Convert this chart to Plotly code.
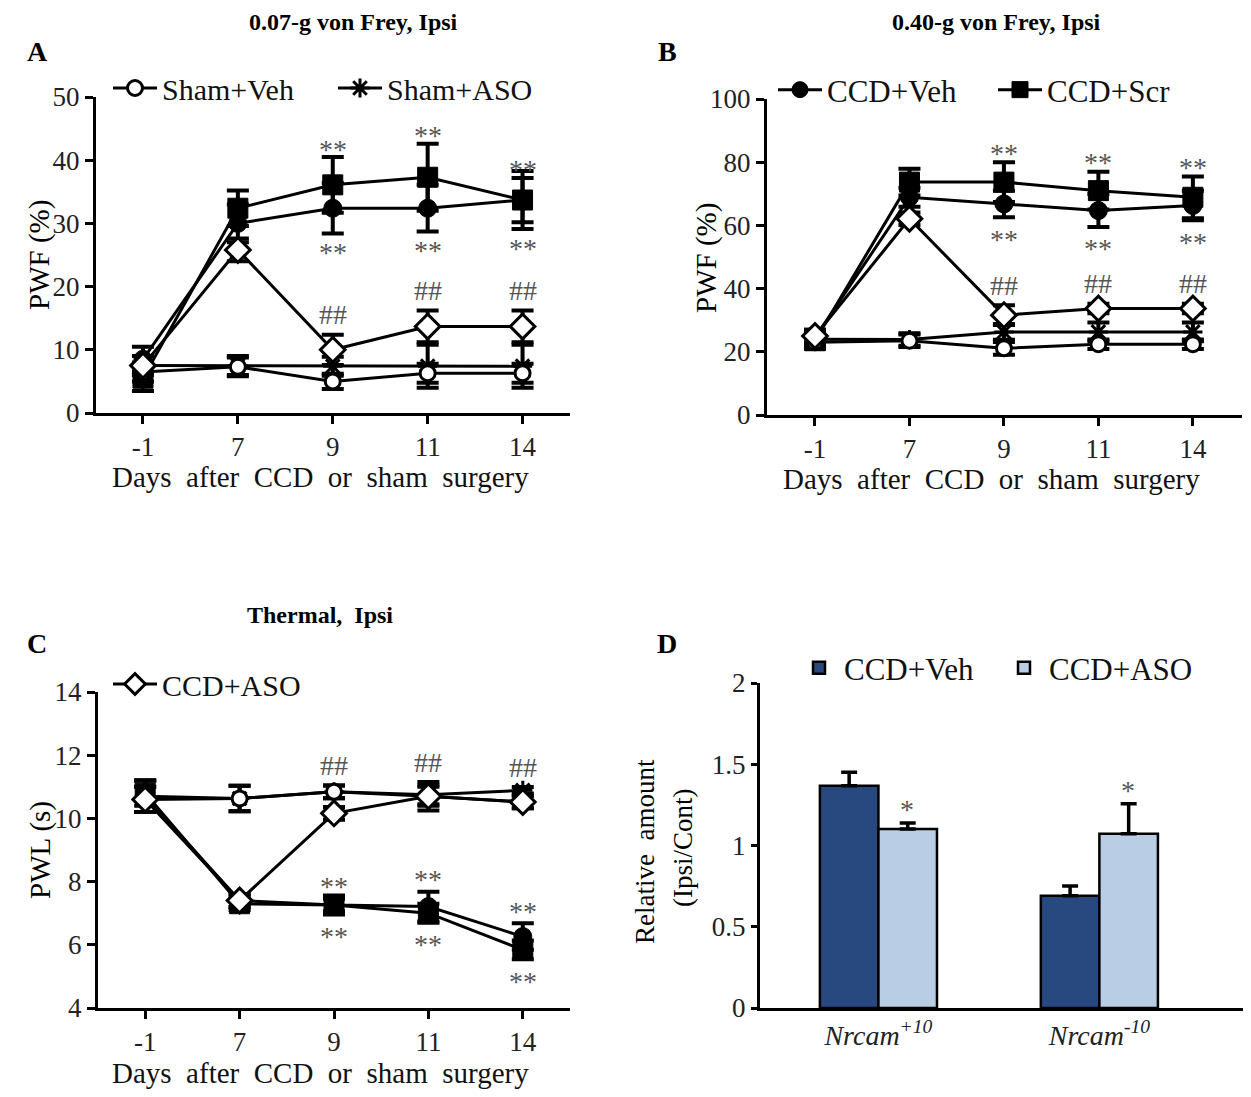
import plotly.graph_objects as go

W, H = 1251, 1097
OFF = 8  # page body margin
def fx(p): return (p - OFF) / W
def fy(p): return 1 - (p - OFF) / H

# ---------------- data ----------------
days = ["-1", "7", "9", "11", "14"]

# Panel A: 0.07-g von Frey, PWF (%)
a_sham_veh = [6.5, 7.3, 5.0, 6.3, 6.3]
a_sham_veh_err = [1.5, 1.5, 1.2, 1.5, 1.5]
a_sham_aso = [7.5, 7.5, 7.4, 7.4, 7.4]
a_sham_aso_err = [1.5, 1.5, 1.5, 3.4, 3.4]
a_ccd_veh = [8.5, 30.0, 32.4, 32.4, 33.7]
a_ccd_veh_err = [2.0, 3.0, 4.0, 3.7, 4.6]
a_ccd_scr = [5.5, 32.4, 36.1, 37.3, 33.7]
a_ccd_scr_err = [2.0, 2.8, 4.4, 5.3, 3.5]
a_ccd_aso = [7.5, 25.8, 10.0, 13.7, 13.7]
a_ccd_aso_err = [1.5, 1.8, 2.4, 2.5, 2.5]

# Panel B: 0.40-g von Frey, PWF (%)
b_sham_veh = [23.0, 23.5, 21.1, 22.4, 22.4]
b_sham_veh_err = [2.0, 2.0, 2.0, 1.5, 1.5]
b_sham_aso = [24.0, 23.9, 26.3, 26.3, 26.3]
b_sham_aso_err = [2.0, 2.0, 2.5, 3.0, 3.0]
b_ccd_veh = [24.5, 68.9, 66.8, 64.7, 66.3]
b_ccd_veh_err = [2.5, 3.0, 4.2, 5.2, 4.7]
b_ccd_scr = [23.5, 73.7, 73.7, 71.0, 68.9]
b_ccd_scr_err = [2.5, 4.2, 6.3, 6.0, 6.6]
b_ccd_aso = [25.0, 62.1, 31.6, 33.7, 33.7]
b_ccd_aso_err = [2.0, 2.0, 3.1, 1.5, 1.5]

# Panel C: Thermal, PWL (s)
c_sham_veh = [10.6, 10.63, 10.84, 10.7, 10.52]
c_sham_veh_err = [0.4, 0.4, 0.2, 0.45, 0.2]
c_sham_aso = [10.7, 10.63, 10.84, 10.75, 10.89]
c_sham_aso_err = [0.5, 0.4, 0.2, 0.3, 0.1]
c_ccd_veh = [10.7, 7.4, 7.26, 7.21, 6.26]
c_ccd_veh_err = [0.5, 0.2, 0.2, 0.47, 0.42]
c_ccd_scr = [10.8, 7.3, 7.26, 7.0, 5.84]
c_ccd_scr_err = [0.4, 0.2, 0.3, 0.3, 0.3]
c_ccd_aso = [10.6, 7.4, 10.16, 10.7, 10.52]
c_ccd_aso_err = [0.4, 0.2, 0.2, 0.3, 0.2]

# Panel D: relative amount (Ipsi/Cont)
d_genes = ["Nrcam+10", "Nrcam-10"]
d_gene_labels = ["<i>Nrcam</i><sup><i>+10</i></sup>", "<i>Nrcam</i><sup><i>-10</i></sup>"]
d_veh = [1.367, 0.690]
d_veh_err = [0.084, 0.061]
d_aso = [1.102, 1.073]
d_aso_err = [0.037, 0.184]

# days (by index) that carry significance marks
sig_days = [2, 3, 4]

# ---------------- styles ----------------
FONT = "Liberation Serif"
styles = {
    "Sham+Veh": dict(symbol="circle", size=15, color="white", lw=3),
    "Sham+ASO": dict(symbol="asterisk-open", size=16, color="black", lw=3),
    "CCD+Veh": dict(symbol="circle", size=18, color="black", lw=1),
    "CCD+Scr": dict(symbol="square", size=20, color="black", lw=1),
    "CCD+ASO": dict(symbol="diamond", size=19, color="white", lw=3),
}

fig = go.Figure()

panels = [
    ("x", "y", {"Sham+Veh": (a_sham_veh, a_sham_veh_err), "Sham+ASO": (a_sham_aso, a_sham_aso_err),
                "CCD+Veh": (a_ccd_veh, a_ccd_veh_err), "CCD+Scr": (a_ccd_scr, a_ccd_scr_err),
                "CCD+ASO": (a_ccd_aso, a_ccd_aso_err)}, "legend", ["Sham+Veh", "Sham+ASO"]),
    ("x2", "y2", {"Sham+Veh": (b_sham_veh, b_sham_veh_err), "Sham+ASO": (b_sham_aso, b_sham_aso_err),
                  "CCD+Veh": (b_ccd_veh, b_ccd_veh_err), "CCD+Scr": (b_ccd_scr, b_ccd_scr_err),
                  "CCD+ASO": (b_ccd_aso, b_ccd_aso_err)}, "legend2", ["CCD+Veh", "CCD+Scr"]),
    ("x3", "y3", {"Sham+Veh": (c_sham_veh, c_sham_veh_err), "Sham+ASO": (c_sham_aso, c_sham_aso_err),
                  "CCD+Veh": (c_ccd_veh, c_ccd_veh_err), "CCD+Scr": (c_ccd_scr, c_ccd_scr_err),
                  "CCD+ASO": (c_ccd_aso, c_ccd_aso_err)}, "legend3", ["CCD+ASO"]),
]

order = ["CCD+Veh", "CCD+Scr", "Sham+ASO", "Sham+Veh", "CCD+ASO"]
legend_order = ["Sham+Veh", "Sham+ASO", "CCD+Veh", "CCD+Scr", "CCD+ASO"]
for xa, ya, data, leg, shown in panels:
    for name in order:
        vals, errs = data[name]
        st = styles[name]
        fig.add_trace(go.Scatter(
            x=days, y=vals, name=name, xaxis=xa, yaxis=ya,
            mode="lines+markers",
            line=dict(color="black", width=3),
            marker=dict(symbol=st["symbol"], size=st["size"], color=st["color"],
                        line=dict(color="black", width=st["lw"])),
            error_y=dict(type="data", array=errs, color="black", thickness=4, width=11),
            showlegend=name in shown, legend=leg,
            legendrank=legend_order.index(name) + 1,
        ))

fig.add_trace(go.Bar(x=d_genes, y=d_veh, name="CCD+Veh", xaxis="x4", yaxis="y4",
                     marker=dict(color="#27497f", line=dict(color="black", width=2.5)),
                     error_y=dict(type="data", array=d_veh_err, arrayminus=[0, 0], symmetric=False,
                                  color="black", thickness=3.5, width=8),
                     legend="legend4"))
fig.add_trace(go.Bar(x=d_genes, y=d_aso, name="CCD+ASO", xaxis="x4", yaxis="y4",
                     marker=dict(color="#b9cde5", line=dict(color="black", width=2.5)),
                     error_y=dict(type="data", array=d_aso_err, arrayminus=[0, 0], symmetric=False,
                                  color="black", thickness=3.5, width=8),
                     legend="legend4"))

# ---------------- annotations ----------------
ann = []
def add_text(text, x, y, size, bold=False, angle=0, color="black", xanchor="center"):
    ann.append(dict(text=f"<b>{text}</b>" if bold else text, x=fx(x), y=fy(y), xref="paper", yref="paper",
                    showarrow=False, textangle=angle, xanchor=xanchor, yanchor="middle",
                    font=dict(family=FONT, size=size, color=color)))

xtitle = "Days\u00a0 after\u00a0 CCD\u00a0 or\u00a0 sham\u00a0 surgery"
add_text("0.07-g von Frey, Ipsi", 353, 22, 24, bold=True)
add_text("0.40-g von Frey, Ipsi", 996, 22, 24, bold=True)
add_text("Thermal,\u00a0 Ipsi", 320, 615, 24, bold=True)
add_text("A", 37, 52, 28, bold=True)
add_text("B", 667, 52, 28, bold=True)
add_text("C", 37, 643, 28, bold=True)
add_text("D", 667, 643, 28, bold=True)
add_text("PWF (%)", 40, 255, 29, angle=-90)
add_text("PWF (%)", 706, 258, 29, angle=-90)
add_text("PWL (s)", 40, 850, 29, angle=-90)
add_text("Relative\u00a0 amount", 645, 852, 27, angle=-90)
add_text("(Ipsi/Cont)", 683, 848, 27, angle=-90)
add_text(xtitle, 320, 477, 29, color="#111111")
add_text(xtitle, 991, 479, 29, color="#111111")
add_text(xtitle, 320, 1073, 29, color="#111111")

SIG = dict(family=FONT, size=28, color="#555555")
def sig(xa, ya, i, yval, text, shift, xshift=0):
    ann.append(dict(text=text, x=i, y=yval, xref=xa, yref=ya, showarrow=False,
                    yshift=shift, xshift=xshift, font=SIG, yanchor="middle"))

for i in sig_days:
    # A
    sig("x", "y", i, a_ccd_scr[i] + a_ccd_scr_err[i], "**", 8)
    sig("x", "y", i, a_ccd_veh[i] - a_ccd_veh_err[i], "**", -19)
    sig("x", "y", i, a_ccd_aso[i] + a_ccd_aso_err[i], "##", 20)
    # B
    sig("x2", "y2", i, b_ccd_scr[i] + b_ccd_scr_err[i], "**", 9)
    sig("x2", "y2", i, b_ccd_veh[i] - b_ccd_veh_err[i], "**", -22)
    sig("x2", "y2", i, b_ccd_aso[i] + b_ccd_aso_err[i], "##", 20)
    # C
    top_c = max(v[i] + e[i] for v, e in [(c_sham_veh, c_sham_veh_err), (c_sham_aso, c_sham_aso_err),
                                          (c_ccd_aso, c_ccd_aso_err)])
    sig("x3", "y3", i, top_c, "##", 20)
    sig("x3", "y3", i, c_ccd_veh[i] + c_ccd_veh_err[i], "**", 12)
    sig("x3", "y3", i, c_ccd_scr[i] - c_ccd_scr_err[i], "**", -22)

for j in range(2):
    sig("x4", "y4", j, d_aso[j] + d_aso_err[j], "*", 13, xshift=29)

# ---------------- axes ----------------
TICKF = dict(family=FONT, size=27, color="#222222")
def xax(dom, rng, ya):
    return dict(domain=[fx(dom[0]), fx(dom[1])], type="category", categoryorder="array", categoryarray=days,
                range=rng, anchor=ya, showline=True, linecolor="black", linewidth=3, ticks="outside",
                ticklen=8, tickwidth=3, tickcolor="black", showgrid=False, zeroline=False, tickfont=TICKF)

def yax(dom, rng, dtick, xa):
    return dict(domain=[fy(dom[1]), fy(dom[0])], range=rng, dtick=dtick, anchor=xa,
                showline=True, linecolor="black", linewidth=3, ticks="outside", ticklen=8, tickwidth=3,
                tickcolor="black", showgrid=False, zeroline=False, tickfont=TICKF)

LEGA = dict(family=FONT, size=30, color="#111111")
LEGB = dict(family=FONT, size=31, color="#111111")
fig.update_layout(
    width=W, height=H, margin=dict(l=0, r=0, t=0, b=0, autoexpand=False),
    paper_bgcolor="white", plot_bgcolor="white",
    xaxis=xax((96, 570), [-0.495, 4.5], "y"),
    yaxis=yax((97, 413), [0, 50], 10, "x"),
    xaxis2=xax((767, 1242), [-0.508, 4.52], "y2"),
    yaxis2=yax((99, 415), [0, 100], 20, "x2"),
    xaxis3=xax((98, 570), [-0.5, 4.5], "y3"),
    yaxis3=yax((692, 1008), [4, 14], 2, "x3"),
    xaxis4=dict(domain=[fx(760), fx(1243)], anchor="y4", range=[-0.536, 1.65],
                tickvals=d_genes, ticktext=d_gene_labels, showline=True, linecolor="black", linewidth=3,
                ticks="", showgrid=False, zeroline=False,
                tickfont=dict(family=FONT, size=28, color="#222222")),
    yaxis4=dict(domain=[fy(1008), fy(683)], range=[0, 2], tickvals=[0, 0.5, 1, 1.5, 2],
                ticktext=["0", "0.5", "1", "1.5", "2"], anchor="x4",
                showline=True, linecolor="black", linewidth=3, ticks="outside", ticklen=6, tickwidth=2.5,
                tickcolor="black", showgrid=False, zeroline=False, tickfont=TICKF),
    barmode="group", bargap=0.47, bargroupgap=0,
    annotations=ann,
    legend=dict(x=fx(108), y=fy(88), xanchor="left", yanchor="middle", orientation="h",
                font=LEGA, bgcolor="rgba(0,0,0,0)", itemwidth=44, entrywidth=166),
    legend2=dict(x=fx(773), y=fy(90), xanchor="left", yanchor="middle", orientation="h",
                 font=LEGB, bgcolor="rgba(0,0,0,0)", itemwidth=44, entrywidth=161),
    legend3=dict(x=fx(108), y=fy(684), xanchor="left", yanchor="middle", orientation="h",
                 font=LEGA, bgcolor="rgba(0,0,0,0)", itemwidth=44),
    legend4=dict(x=fx(794), y=fy(668), xanchor="left", yanchor="middle", orientation="h",
                 font=LEGB, bgcolor="rgba(0,0,0,0)", itemwidth=40, entrywidth=150),
)

fig.write_html("out.html")
